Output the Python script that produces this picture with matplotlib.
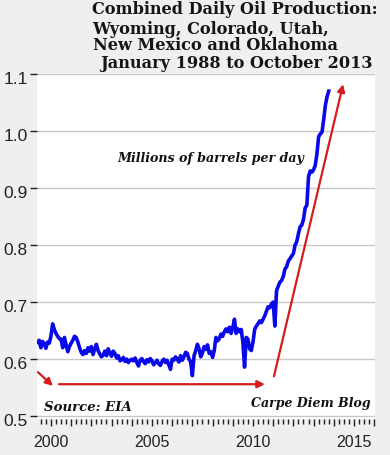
import matplotlib
matplotlib.use('Agg')
import matplotlib.pyplot as plt
import matplotlib.transforms as mtransforms
from matplotlib.ticker import FixedLocator, FuncFormatter

# Monthly combined oil production (millions of barrels per day), Jan of each year onward
start_year = 1999
prod_1999 = [0.635, 0.630, 0.628, 0.632, 0.629, 0.633, 0.620, 0.631, 0.627, 0.619, 0.630, 0.628]
prod_2000 = [0.640, 0.662, 0.652, 0.645, 0.640, 0.636, 0.635, 0.620, 0.638, 0.625, 0.613, 0.622]
prod_2001 = [0.628, 0.633, 0.640, 0.638, 0.630, 0.620, 0.612, 0.608, 0.615, 0.610, 0.620, 0.614]
prod_2002 = [0.622, 0.608, 0.618, 0.626, 0.615, 0.609, 0.604, 0.607, 0.614, 0.606, 0.618, 0.611]
prod_2003 = [0.605, 0.614, 0.610, 0.602, 0.606, 0.597, 0.599, 0.603, 0.596, 0.600, 0.594, 0.598]
prod_2004 = [0.600, 0.597, 0.602, 0.594, 0.588, 0.598, 0.601, 0.596, 0.592, 0.599, 0.595, 0.601]
prod_2005 = [0.597, 0.590, 0.594, 0.598, 0.592, 0.589, 0.596, 0.600, 0.594, 0.598, 0.590, 0.582]
prod_2006 = [0.600, 0.598, 0.604, 0.600, 0.595, 0.606, 0.598, 0.604, 0.612, 0.610, 0.600, 0.595]
prod_2007 = [0.571, 0.606, 0.615, 0.626, 0.618, 0.604, 0.611, 0.622, 0.617, 0.625, 0.610, 0.613]
prod_2008 = [0.603, 0.615, 0.638, 0.632, 0.636, 0.644, 0.640, 0.648, 0.653, 0.648, 0.656, 0.645]
prod_2009 = [0.655, 0.670, 0.645, 0.653, 0.648, 0.652, 0.630, 0.586, 0.638, 0.635, 0.618, 0.615]
prod_2010 = [0.630, 0.652, 0.658, 0.662, 0.667, 0.664, 0.670, 0.676, 0.684, 0.692, 0.690, 0.697]
prod_2011 = [0.700, 0.658, 0.720, 0.728, 0.735, 0.738, 0.745, 0.758, 0.762, 0.772, 0.776, 0.781]
prod_2012 = [0.785, 0.800, 0.806, 0.820, 0.832, 0.835, 0.845, 0.865, 0.870, 0.920, 0.930, 0.928]
prod_2013 = [0.932, 0.940, 0.960, 0.990, 0.995, 0.998, 1.020, 1.045, 1.060, 1.070]

production = (prod_1999 + prod_2000 + prod_2001 + prod_2002 + prod_2003 + prod_2004 +
              prod_2005 + prod_2006 + prod_2007 + prod_2008 + prod_2009 + prod_2010 +
              prod_2011 + prod_2012 + prod_2013)
months = [start_year + i / 12 for i in range(len(production))]

x_labels = [2000, 2005, 2010, 2015]
y_ticks = [0.5, 0.6, 0.7, 0.8, 0.9, 1.0, 1.1]
y_labels = ['0.5', '0.6', '0.7', '0.8', '0.9', '1.0', '1.1']

title_lines = ['Combined Daily Oil Production:', 'Wyoming, Colorado, Utah,',
               'New Mexico and Oklahoma', 'January 1988 to October 2013']
unit_label = 'Millions of barrels per day'
source_label = 'Source: EIA'
blog_label = 'Carpe Diem Blog'

W, H = 390, 456
fig = plt.figure(figsize=(W / 100, H / 100), dpi=100, facecolor='#efefef')
ax = fig.add_axes([37 / W, 1 - 420 / H, (375 - 37) / W, (420 - 75) / H])
ax.set_facecolor('white')
for s in ax.spines.values():
    s.set_visible(False)

ax.plot(months, production, color='#0808e8', lw=2.6, solid_joinstyle='round', zorder=3)

ax.set_xlim(1999.31, 2016.04)
ax.set_ylim(0.495, 1.1)

ax.set_yticks(y_ticks)
ax.set_yticklabels(y_labels)
ax.yaxis.grid(True, color='#c8c8c8', lw=1)
ax.set_axisbelow(True)

years = list(range(2000, 2017))
ax.xaxis.set_major_locator(FixedLocator(years))
ax.xaxis.set_major_formatter(FuncFormatter(lambda v, p: str(int(round(v))) if int(round(v)) in x_labels else ''))
quarters = [y + q * 0.25 for y in range(1999, 2017) for q in (1, 2, 3)]
ax.xaxis.set_minor_locator(FixedLocator(quarters))

ax.tick_params(axis='y', direction='out', length=5, width=1, color='#222222',
               labelsize=12.5, labelcolor='#222222', pad=1.5)
ax.tick_params(axis='x', which='major', direction='out', length=5, width=1, color='#222222',
               labelsize=11.5, labelcolor='#222222', pad=6)
ax.tick_params(axis='x', which='minor', direction='out', length=3.5, width=1, color='#222222')
shift = mtransforms.ScaledTranslation(0, -3 / 100, fig.dpi_scale_trans)
for lab in ax.get_yticklabels():
    lab.set_transform(lab.get_transform() + shift)
for lab in ax.get_xticklabels() + ax.get_yticklabels():
    lab.set_family('Liberation Sans')

red = '#d41c1c'
arrow_kw = dict(arrowstyle='-|>', color=red, lw=1.6, mutation_scale=11, shrinkA=0, shrinkB=0)
ax.annotate('', xy=(2000.1, 0.553), xytext=(1999.36, 0.577), arrowprops=arrow_kw)
ax.annotate('', xy=(2010.59, 0.556), xytext=(2000.4, 0.556), arrowprops=arrow_kw)
ax.annotate('', xy=(2014.46, 1.082), xytext=(2011.04, 0.570), arrowprops=arrow_kw)

serif = 'DejaVu Serif'
ax.text(2003.27, 0.954, unit_label, family=serif, style='italic', weight='bold',
        fontsize=9.1, ha='left', va='center', color='#111111')
ax.text(1999.65, 0.5175, source_label, family=serif, style='italic', weight='bold',
        fontsize=9.5, ha='left', va='center', color='#111111')
ax.text(2015.84, 0.5246, blog_label, family=serif, style='italic', weight='bold',
        fontsize=9, ha='right', va='center', color='#111111')

title_pos = [(92, 10), (92, 29), (93, 46), (100, 63)]
for line, (px, py) in zip(title_lines, title_pos):
    fig.text(px / W, 1 - py / H, line, family=serif, weight='bold', fontsize=11.6,
             ha='left', va='center', color='#151515')

fig.savefig('out.png', dpi=100, facecolor=fig.get_facecolor())
